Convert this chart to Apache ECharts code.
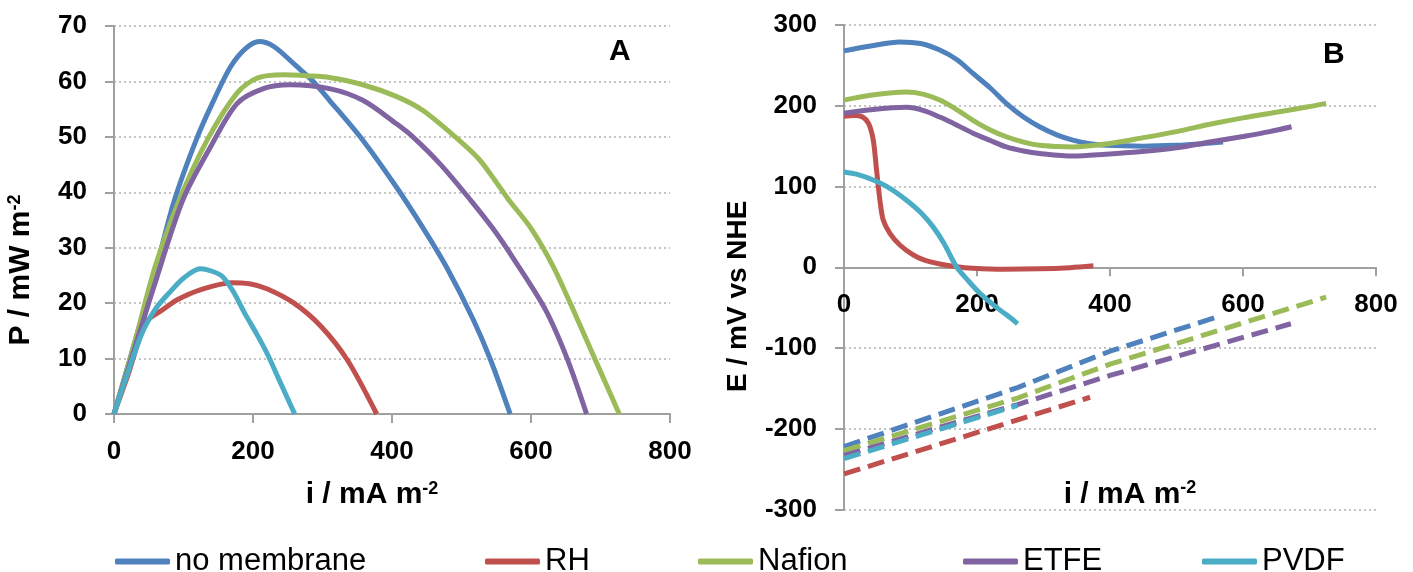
<!DOCTYPE html>
<html>
<head>
<meta charset="utf-8">
<script src="https://cdn.jsdelivr.net/npm/echarts@6/dist/echarts.min.js"></script>
<style>
html,body{margin:0;padding:0;background:#fff;}
#chart{width:1413px;height:572px;}
</style>
</head>
<body>
<div id="chart"></div>
<script>
// ---------- DATA ----------
const seriesNames = ['no membrane', 'RH', 'Nafion', 'ETFE', 'PVDF'];

// Panel A: power density P (mW m-2) vs current density i (mA m-2)
const powerNoMembrane = [[0,0],[30,13],[60,26],[87,38.6],[120,50],[145,57],[168,62.7],[190,66],[209,67.2],[230,66.3],[263,62.7],[285,60.2],[310,56.6],[358,49.4],[406,41],[445,33.5],[478,26.6],[517,17],[542,9.7],[570,0]];
const powerRH = [[0,0],[20,7],[46,16.5],[70,18.8],[91,20.6],[124,22.4],[169,23.7],[195,23.5],[220,22.6],[259,20],[298,15.8],[336,9.7],[378,0]];
const powerNafion = [[0,0],[30,13],[59,26.5],[94,38.6],[134,49.4],[177,57.9],[206,60.6],[244,61.2],[280,61],[310,60.7],[358,59.4],[406,57.3],[444,54.8],[491,50],[525,46],[549,42],[567,38.8],[600,33.5],[632,26.6],[665,17.6],[697,8.5],[727,0]];
const powerETFE = [[0,0],[30,12],[59,23.6],[99,38.6],[139,48.2],[177,56],[215,58.7],[253,59.4],[310,58.7],[358,56.6],[406,52.4],[430,50],[470,45],[513,38.6],[545,33.5],[575,28],[620,19],[652,10],[680,0]];
const powerPVDF = [[0,0],[20,7.5],[40,14.5],[60,19],[79,21.8],[100,24.5],[124,26.2],[140,25.8],[156,24.8],[172,22],[188,18.2],[205,14.5],[220,11],[240,5.5],[260,0]];

// Panel B: electrode potentials E (mV vs NHE) vs i (mA m-2)
const cathodeNoMembrane = [[0,268],[40,274],[84,279],[115,277],[144,269],[170,257],[194,240],[220,222],[244,203],[270,186],[294,174],[320,164],[344,157.5],[370,153],[394,151],[450,150],[500,151],[540,153],[570,155]];
const cathodeRH = [[0,187],[15,188],[28,186],[37,178],[44,157.5],[49,120],[54,83],[59,58.5],[69,42],[84,27.6],[104,15.2],[120,9],[144,4],[170,0.5],[194,-1.3],[240,-2.5],[294,-2],[340,-0.5],[375,1.8]];
const cathodeNafion = [[0,207],[40,213],[94,217],[120,214],[144,207],[170,195],[194,182],[220,170],[244,161.6],[270,155],[294,151],[320,149.5],[344,149],[370,150.5],[394,152.6],[444,159.6],[500,168],[550,177],[600,185],[650,192],[700,199],[725,203]];
const cathodeETFE = [[0,190.6],[40,195],[94,198],[120,194],[144,186],[170,176],[194,166],[220,157],[244,149],[270,144],[294,141],[344,137.7],[394,140],[444,143],[500,148],[550,155],[600,162],[640,168],[673,174]];
const cathodePVDF = [[0,118],[20,115],[44,108],[69,97.8],[94,83],[115,68],[134,50],[150,30],[169,0.7],[185,-15],[204,-32],[230,-50],[254,-65],[261,-70]];

const anodeNoMembrane = [[0,-222],[261,-149],[400,-104],[567,-60]];
const anodeRH = [[0,-256],[370,-161]];
const anodeNafion = [[0,-227],[261,-162],[400,-120],[725,-37]];
const anodeETFE = [[0,-233],[261,-170],[400,-134],[672,-70]];
const anodePVDF = [[0,-237],[261,-171]];

// ---------- STYLE ----------
const colors = ['#4F81BD', '#C0504D', '#9BBB59', '#8064A2', '#4BACC6'];
const FONT = 'Liberation Sans, Arial, sans-serif';
const axisGrey = '#A0A0A0';

const powerSets = [powerNoMembrane, powerRH, powerNafion, powerETFE, powerPVDF];
const cathodeSets = [cathodeNoMembrane, cathodeRH, cathodeNafion, cathodeETFE, cathodePVDF];
const anodeSets = [anodeNoMembrane, anodeRH, anodeNafion, anodeETFE, anodePVDF];

function nameRich(main, sup) {
  return '{a|' + main + '}{b|' + sup + '}';
}
const nameRichStyle = {
  a: { fontSize: 30, fontWeight: 'bold', fontFamily: FONT, color: '#000' },
  b: { fontSize: 18, fontWeight: 'bold', fontFamily: FONT, color: '#000', verticalAlign: 'top' }
};
const labelStyle = { fontSize: 26, fontWeight: 'bold', color: '#000', fontFamily: FONT, margin: 25 };

function xAxisCfg(gridIndex, gap, pad) {
  return {
    type: 'value', gridIndex: gridIndex, min: 0, max: 800, interval: 200,
    name: nameRich('i / mA m', '-2'), nameLocation: 'middle', nameGap: gap,
    nameTextStyle: { rich: nameRichStyle, padding: pad },
    axisLine: { show: true, onZero: true, lineStyle: { color: axisGrey, width: 2 } },
    axisTick: { show: true, inside: false, length: 9, lineStyle: { color: axisGrey, width: 2 } },
    axisLabel: labelStyle,
    splitLine: { show: false }
  };
}
function yAxisCfg(gridIndex, min, max, interval, name, gap, pad) {
  return {
    type: 'value', gridIndex: gridIndex, min: min, max: max, interval: interval,
    name: name, nameLocation: 'middle', nameGap: gap,
    nameTextStyle: { rich: nameRichStyle, padding: pad },
    axisLine: { show: true, onZero: false, lineStyle: { color: axisGrey, width: 2 } },
    axisTick: { show: true, inside: false, length: 9, lineStyle: { color: axisGrey, width: 2 } },
    axisLabel: Object.assign({}, labelStyle, { margin: 27 }),
    splitLine: { show: true, lineStyle: { color: '#C4C4C4', width: 2, type: [2, 3] } }
  };
}

const series = [];
seriesNames.forEach((n, k) => {
  series.push({
    name: n, type: 'line', xAxisIndex: 0, yAxisIndex: 0, data: powerSets[k],
    showSymbol: false, smooth: 0.3,
    lineStyle: { color: colors[k], width: 5 }, itemStyle: { color: colors[k] }
  });
});
seriesNames.forEach((n, k) => {
  series.push({
    name: n, type: 'line', xAxisIndex: 1, yAxisIndex: 1, data: cathodeSets[k],
    showSymbol: false, smooth: 0.3,
    lineStyle: { color: colors[k], width: 5 }, itemStyle: { color: colors[k] }
  });
});
seriesNames.forEach((n, k) => {
  series.push({
    name: n + ' (anode)', type: 'line', xAxisIndex: 1, yAxisIndex: 1, data: anodeSets[k],
    showSymbol: false, smooth: false,
    lineStyle: { color: colors[k], width: 5, type: [17, 8] }, itemStyle: { color: colors[k] }
  });
});

const legendLeft = [110, 480, 693, 958, 1197];
const legends = seriesNames.map((n, k) => ({
  data: [n], left: legendLeft[k], top: 541, orient: 'horizontal',
  icon: 'roundRect', itemWidth: 55, itemHeight: 6, itemGap: 0,
  textStyle: { fontSize: 31, color: '#000', fontFamily: FONT },
  selectedMode: false
}));

// Panel B: the x axis sits on E = 0; a helper grid (upper half of panel B) carries its labels and name
const xB = xAxisCfg(1, 212, [0, 0, 0, 40]);
xB.axisLabel = { show: false };
xB.name = '';
const xBLabels = xAxisCfg(2, 212, [0, 0, 0, 40]);
xBLabels.axisLine = { show: false, onZero: false };
xBLabels.axisTick = { show: false };

const option = {
  animation: false,
  backgroundColor: '#fff',
  textStyle: { fontFamily: FONT },
  legend: legends,
  grid: [
    { left: 114, top: 26, width: 556, height: 388, containLabel: false, outerBoundsMode: 'none' },
    { left: 844, top: 25, width: 532, height: 484.5, containLabel: false, outerBoundsMode: 'none' },
    { left: 844, top: 25, width: 532, height: 242.25, containLabel: false, outerBoundsMode: 'none' }
  ],
  xAxis: [
    xAxisCfg(0, 66, [0, 40, 0, 0]),
    xB,
    xBLabels
  ],
  yAxis: [
    yAxisCfg(0, 0, 70, 10, nameRich('P / mW m', '-2'), 78, [0, 100, 0, 0]),
    yAxisCfg(1, -300, 300, 100, 'E / mV vs NHE', 92, [0, 58, 0, 0]),
    { type: 'value', gridIndex: 2, min: 0, max: 300, show: false }
  ],
  graphic: [
    { type: 'text', left: 609, top: 37, style: { text: 'A', fontSize: 30, fontWeight: 'bold', fontFamily: FONT, fill: '#000' } },
    { type: 'text', left: 1323, top: 40, style: { text: 'B', fontSize: 30, fontWeight: 'bold', fontFamily: FONT, fill: '#000' } }
  ],
  series: series
};

option.yAxis[1].nameTextStyle = { fontSize: 28, fontWeight: 'bold', color: '#000', fontFamily: FONT, padding: [0, 58, 0, 0] };

const chart = echarts.init(document.getElementById('chart'), null, { renderer: 'canvas' });
chart.setOption(option);
</script>
</body>
</html>
